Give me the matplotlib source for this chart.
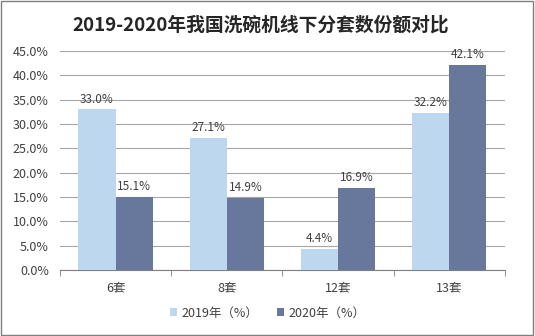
import numpy as np
import matplotlib
matplotlib.use("Agg")
import matplotlib.pyplot as plt
from matplotlib.ticker import FuncFormatter, FixedLocator

plt.rcParams["font.family"] = ["Noto Sans CJK SC", "DejaVu Sans"]
plt.rcParams["axes.unicode_minus"] = False

categories = ["6套", "8套", "12套", "13套"]
v2019 = [33.0, 27.1, 4.4, 32.2]
v2020 = [15.1, 14.9, 16.9, 42.1]
series_names = ["2019年（%）", "2020年（%）"]

fig = plt.figure(figsize=(5.35, 3.36), dpi=100)
ax = fig.add_axes([0.112, 0.196, 0.832, 0.652])

x = np.arange(len(categories))
w = 1 / 3
b1 = ax.bar(x - w / 2, v2019, w, color="#BDD7EE", label=series_names[0], zorder=3)
b2 = ax.bar(x + w / 2, v2020, w, color="#68779C", label=series_names[1], zorder=3)

for bars, vals in ((b1, v2019), (b2, v2020)):
    for r, v in zip(bars, vals):
        ax.text(r.get_x() + r.get_width() / 2, v + 0.8, f"{v:.1f}%",
                ha="center", va="bottom", fontsize=8.5, color="#404040")

ax.set_xlim(-0.5, len(categories) - 0.5)
ax.set_ylim(0, 45)
ax.set_yticks(np.arange(0, 46, 5))
ax.yaxis.set_major_formatter(FuncFormatter(lambda v, p: f"{v:.1f}%"))
ax.grid(axis="y", color="#A6A6A6", linewidth=0.8, zorder=0)
ax.tick_params(axis="y", length=0, labelsize=9, colors="#404040", pad=8)

ax.set_xticks(x)
ax.set_xticklabels(categories)
ax.tick_params(axis="x", length=0, labelsize=9, colors="#404040", pad=8)
ax.xaxis.set_minor_locator(FixedLocator(np.arange(-0.5, len(categories), 1)))
ax.tick_params(axis="x", which="minor", length=4, color="#7F7F7F")

for s in ["left", "right", "top"]:
    ax.spines[s].set_visible(False)
ax.spines["bottom"].set_color("#7F7F7F")

fig.suptitle("2019-2020年我国洗碗机线下分套数份额对比", x=0.488, y=0.926, va="center",
             fontsize=13.5, fontweight="bold", color="#262626")

fig.legend(loc="lower center", bbox_to_anchor=(0.5, 0.015), ncol=2, frameon=False,
           fontsize=9, handlelength=0.6, handleheight=0.6, handletextpad=0.3,
           columnspacing=1.5, labelcolor="#404040")

fig.patches.append(plt.Rectangle((0.002, 0.003), 0.995, 0.994, transform=fig.transFigure,
                                 fill=False, edgecolor="#7F7F7F", linewidth=1))

fig.savefig("out.png", dpi=100)
